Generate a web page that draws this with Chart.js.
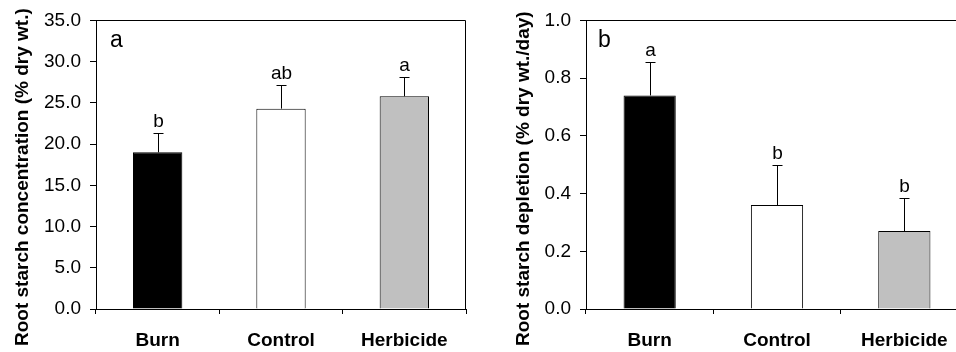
<!DOCTYPE html>
<html><head><meta charset="utf-8">
<script src="https://cdn.jsdelivr.net/npm/chart.js@4/dist/chart.umd.min.js"></script>
<style>
html,body{margin:0;padding:0;background:#fff;}
#wrap{position:relative;width:956px;height:352px;overflow:hidden;background:#fff;}
#ca{position:absolute;left:0;top:0;}
#cb{position:absolute;left:480px;top:0;}
</style></head><body>
<div id="wrap"><canvas id="ca" width="480" height="352"></canvas><canvas id="cb" width="502" height="352"></canvas></div>
<script>
const categories = ['Burn', 'Control', 'Herbicide'];
const concentration = [19.0, 24.3, 25.8];
const concentrationErr = [2.3, 2.9, 2.3];
const concentrationLetters = ['b', 'ab', 'a'];
const concentrationTicks = [0, 5, 10, 15, 20, 25, 30, 35];
const depletion = [0.74, 0.36, 0.27];
const depletionErr = [0.115, 0.14, 0.113];
const depletionLetters = ['a', 'b', 'b'];
const depletionTicks = [0, 0.2, 0.4, 0.6, 0.8, 1.0];
const barColors = ['#000000', '#ffffff', '#c0c0c0'];
const FONT = '"Liberation Sans", Arial, Helvetica, sans-serif';

const overlay = {
  id: 'overlay',
  afterDatasetsDraw(chart, args, opts) {
    const ctx = chart.ctx, ca = chart.chartArea;
    const xs = chart.scales.x, ys = chart.scales.y;
    const ds = chart.data.datasets[0];
    ctx.save();
    ctx.strokeStyle = '#000';
    ctx.lineWidth = 1;
    // frame top/right
    const L = Math.round(ca.left) + 0.5, T = Math.round(ca.top) + 0.5;
    const R = Math.round(ca.right) - 0.5, B = Math.round(ca.bottom) + 0.5;
    ctx.beginPath();
    ctx.moveTo(L, T); ctx.lineTo(R, T); ctx.lineTo(R, B);
    ctx.stroke();
    // error bars + letters
    ds.data.forEach((v, i) => {
      const px = Math.round(xs.getPixelForValue(i)) + 0.5;
      const y0 = ys.getPixelForValue(v);
      const y1 = Math.round(ys.getPixelForValue(v + opts.err[i])) + 0.5;
      ctx.beginPath();
      ctx.moveTo(px, y0); ctx.lineTo(px, y1);
      ctx.moveTo(px - 5, y1); ctx.lineTo(px + 5, y1);
      ctx.stroke();
      ctx.fillStyle = '#000';
      ctx.font = '19px ' + FONT;
      ctx.textAlign = 'center';
      ctx.textBaseline = 'alphabetic';
      ctx.fillText(opts.letters[i], px, y1 - 7);
    });
    // panel letter
    ctx.font = '23px ' + FONT;
    ctx.textAlign = 'left';
    ctx.textBaseline = 'alphabetic';
    ctx.fillText(opts.panel, ca.left + opts.panelDx, ca.top + 27);
    // y title
    ctx.translate(opts.titleX, opts.titleY);
    ctx.rotate(-Math.PI / 2);
    ctx.font = 'bold 19px ' + FONT;
    ctx.textAlign = 'left';
    ctx.textBaseline = 'alphabetic';
    ctx.fillText(opts.title, 0, 0);
    ctx.restore();
  }
};

function makeChart(id, values, errs, letters, tickVals, yMax, axisW, padRight, barPct, panel, panelDx, title, titleX) {
  return new Chart(document.getElementById(id), {
    type: 'bar',
    data: {
      labels: categories,
      datasets: [{
        data: values,
        backgroundColor: barColors,
        borderColor: '#000',
        borderWidth: 1,
        barPercentage: barPct,
        categoryPercentage: 1.0
      }]
    },
    options: {
      responsive: false,
      animation: false,
      events: [],
      layout: { padding: { left: 0, top: 14, right: padRight, bottom: 0 } },
      plugins: {
        legend: { display: false },
        tooltip: { enabled: false },
        overlay: { err: errs, letters: letters, panel: panel, panelDx: panelDx, title: title, titleX: titleX, titleY: 346 }
      },
      scales: {
        x: {
          type: 'category',
          offset: true,
          grid: { offset: true, drawOnChartArea: false, drawTicks: true, tickLength: 5, color: '#000', lineWidth: 1 },
          border: { display: true, color: '#000', width: 1 },
          ticks: { color: '#000', font: { family: FONT, size: 19, weight: 'bold' }, padding: 15, maxRotation: 0 },
          afterFit: (s) => { s.height = 43; }
        },
        y: {
          min: 0,
          max: yMax,
          afterBuildTicks: (s) => { s.ticks = tickVals.map(v => ({ value: v })); },
          grid: { drawOnChartArea: false, drawTicks: true, tickLength: 6, color: '#000', lineWidth: 1 },
          border: { display: true, color: '#000', width: 1 },
          ticks: { color: '#000', font: { family: FONT, size: 19 }, padding: 9,
                   callback: (v) => Number(v).toFixed(1) },
          afterFit: (s) => { s.width = axisW; }
        }
      }
    },
    plugins: [overlay]
  });
}

makeChart('ca', concentration, concentrationErr, concentrationLetters, concentrationTicks, 35,
  96, 14, 0.4, 'a', 14, 'Root starch concentration (% dry wt.)', 27.5);
makeChart('cb', depletion, depletionErr, depletionLetters, depletionTicks, 1.0,
  106, 14, 0.41, 'b', 12, 'Root starch depletion (% dry wt./day)', 48.5);
</script>
</body></html>
